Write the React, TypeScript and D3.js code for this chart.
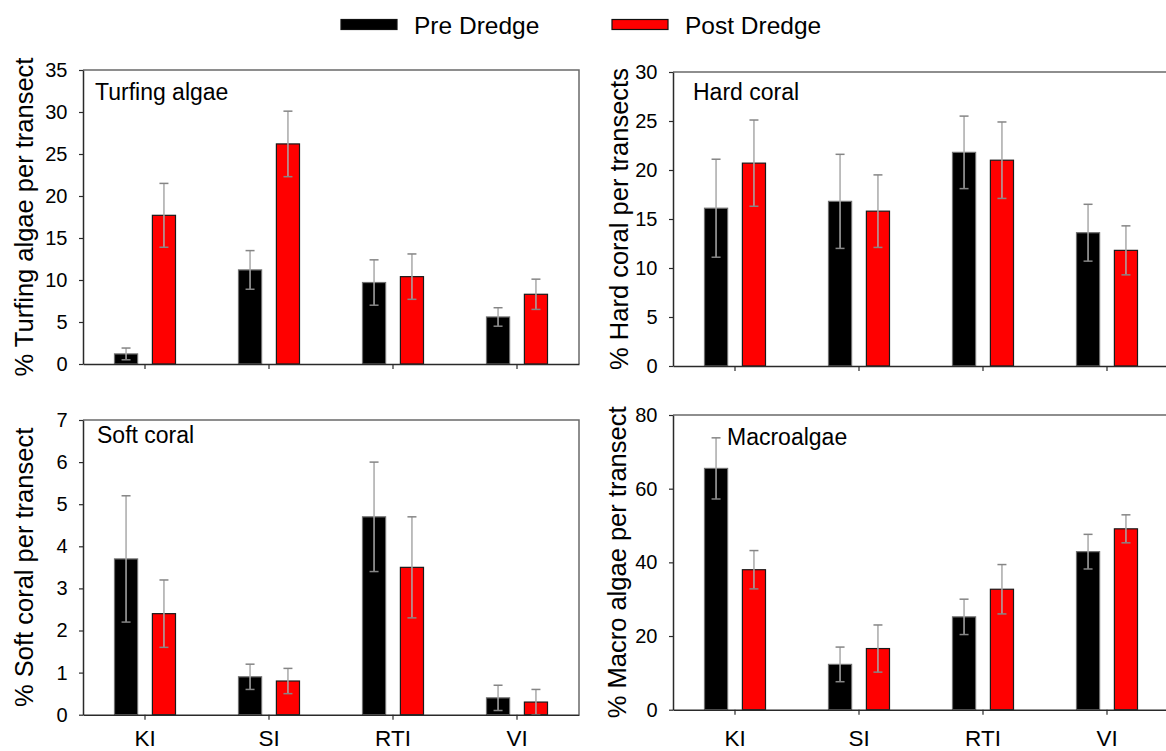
import React, { useEffect, useRef } from 'react'
import * as d3 from 'd3'

// sites along the x axis and the two survey periods
const sites = ['KI', 'SI', 'RTI', 'VI']
const seriesNames = ['Pre Dredge', 'Post Dredge']
const seriesColors = ['#000000', '#ff0000']

// % cover per transect (mean and error)
const turfPre = [1.2, 11.2, 9.7, 5.6]
const turfPreErr = [0.7, 2.3, 2.7, 1.1]
const turfPost = [17.7, 26.2, 10.4, 8.3]
const turfPostErr = [3.8, 3.9, 2.7, 1.8]

const hardPre = [16.1, 16.8, 21.8, 13.6]
const hardPreErr = [5.0, 4.8, 3.7, 2.9]
const hardPost = [20.7, 15.8, 21.0, 11.8]
const hardPostErr = [4.4, 3.7, 3.9, 2.5]

const softPre = [3.7, 0.9, 4.7, 0.4]
const softPreErr = [1.5, 0.3, 1.3, 0.3]
const softPost = [2.4, 0.8, 3.5, 0.3]
const softPostErr = [0.8, 0.3, 1.2, 0.3]

const macroPre = [65.5, 12.3, 25.2, 42.9]
const macroPreErr = [8.3, 4.7, 4.8, 4.7]
const macroPost = [38.0, 16.6, 32.7, 49.1]
const macroPostErr = [5.2, 6.4, 6.7, 3.8]

const FONT = '"Liberation Sans", Arial, sans-serif'

const buildRows = (pre, preErr, post, postErr) =>
    sites.map((site, i) => ({
        site,
        bars: [
            { key: seriesNames[0], val: pre[i], err: preErr[i] },
            { key: seriesNames[1], val: post[i], err: postErr[i] }
        ]
    }))

const panels = [
    {
        rows: buildRows(turfPre, turfPreErr, turfPost, turfPostErr),
        yMax: 35, yStep: 5, title: 'Turfing algae', yLabel: '% Turfing algae per transect',
        left: 83, top: 70, height: 294, titleDx: 12, titleDy: 30, yLabelX: 33, showX: false, xGap: 15
    },
    {
        rows: buildRows(hardPre, hardPreErr, hardPost, hardPostErr),
        yMax: 30, yStep: 5, title: 'Hard coral', yLabel: '% Hard coral per transects',
        left: 673, top: 72, height: 294, titleDx: 20, titleDy: 28, yLabelX: 628, showX: false, xGap: 15
    },
    {
        rows: buildRows(softPre, softPreErr, softPost, softPostErr),
        yMax: 7, yStep: 1, title: 'Soft coral', yLabel: '% Soft coral per transect',
        left: 83, top: 420, height: 294.7, titleDx: 14, titleDy: 23, yLabelX: 33, showX: true, xGap: 10
    },
    {
        rows: buildRows(macroPre, macroPreErr, macroPost, macroPostErr),
        yMax: 80, yStep: 20, title: 'Macroalgae', yLabel: '% Macro algae per transect',
        left: 673, top: 415, height: 294.7, titleDx: 54, titleDy: 30, yLabelX: 626, showX: true, xGap: 15
    }
]

const PANEL_W = 496

function drawPanel(svg, p) {
    const g = svg.append('g').attr('transform', `translate(${p.left},${p.top})`)

    const x0 = d3.scaleBand()
        .domain(sites)
        .range([0, PANEL_W])
        .paddingInner(0.508)
        .paddingOuter(0.254)

    const x1 = d3.scaleBand()
        .domain(seriesNames)
        .range([0, x0.bandwidth()])
        .paddingInner(0.39)

    const y = d3.scaleLinear()
        .domain([0, p.yMax])
        .range([p.height, 0])

    const color = d3.scaleOrdinal().domain(seriesNames).range(seriesColors)

    // top and right frame
    g.append('path')
        .attr('d', `M0,0H${PANEL_W}V${p.height}`)
        .attr('fill', 'none')
        .attr('stroke', '#6a6a6a')
        .attr('stroke-width', 1.5)

    // bars
    const groups = g.append('g')
        .selectAll('g')
        .data(p.rows)
        .join('g')
        .attr('transform', d => `translate(${x0(d.site)},0)`)

    groups.selectAll('rect')
        .data(d => d.bars)
        .join('rect')
        .attr('x', d => x1(d.key))
        .attr('y', d => y(d.val))
        .attr('width', x1.bandwidth())
        .attr('height', d => y(0) - y(d.val))
        .attr('fill', d => color(d.key))
        .attr('stroke', d => d.key === seriesNames[0] ? '#6f6f6f' : '#1a1a1a')
        .attr('stroke-width', 1.2)

    // error bars
    const err = groups.selectAll('g.err')
        .data(d => d.bars)
        .join('g')
        .attr('class', 'err')
        .attr('transform', d => `translate(${x1(d.key) + x1.bandwidth() / 2},0)`)

    err.append('line')
        .attr('y1', d => y(Math.max(0, d.val - d.err)))
        .attr('y2', d => y(d.val + d.err))
        .attr('stroke', '#a9a9a9')
        .attr('stroke-width', 1.5)

    err.selectAll('line.cap')
        .data(d => [Math.max(0, d.val - d.err), d.val + d.err])
        .join('line')
        .attr('class', 'cap')
        .attr('x1', -4.5)
        .attr('x2', 4.5)
        .attr('y1', d => y(d))
        .attr('y2', d => y(d))
        .attr('stroke', '#858585')
        .attr('stroke-width', 1.5)

    // y axis
    const yAxis = g.append('g')
        .call(d3.axisLeft(y)
            .tickValues(d3.range(0, p.yMax + p.yStep / 2, p.yStep))
            .tickFormat(d3.format('d'))
            .tickSize(4)
            .tickSizeOuter(0)
            .tickPadding(11.5))
    yAxis.select('.domain').attr('stroke', '#2a2a2a').attr('stroke-width', 1.5)
    yAxis.selectAll('.tick line').attr('stroke', '#2a2a2a').attr('stroke-width', 1.2)
    yAxis.selectAll('.tick text')
        .attr('font-size', 20)
        .attr('font-family', FONT)
        .attr('fill', '#000')

    // x axis
    const xAxis = g.append('g')
        .attr('transform', `translate(0,${p.height})`)
        .call(d3.axisBottom(x0)
            .tickSize(5)
            .tickSizeOuter(0)
            .tickPadding(p.xGap))
    xAxis.select('.domain').attr('stroke', '#2a2a2a').attr('stroke-width', 1.5)
    xAxis.selectAll('.tick line').attr('stroke', '#2a2a2a').attr('stroke-width', 1.2)
    xAxis.selectAll('.tick text')
        .attr('font-size', 22.5)
        .attr('font-family', FONT)
        .attr('fill', '#000')
        .style('display', p.showX ? null : 'none')

    // panel title
    g.append('text')
        .attr('x', p.titleDx)
        .attr('y', p.titleDy)
        .attr('font-size', 23)
        .attr('font-family', FONT)
        .text(p.title)

    // y axis label
    svg.append('text')
        .attr('transform', `translate(${p.yLabelX},${p.top + p.height / 2}) rotate(-90)`)
        .attr('text-anchor', 'middle')
        .attr('font-size', 25.5)
        .attr('font-family', FONT)
        .text(p.yLabel)
}

function drawLegend(svg) {
    const legendX = [341, 612]
    const item = svg.append('g')
        .selectAll('g')
        .data(seriesNames)
        .join('g')
        .attr('transform', (d, i) => `translate(${legendX[i]},19.5)`)

    item.append('rect')
        .attr('width', 56)
        .attr('height', 10)
        .attr('fill', (d, i) => seriesColors[i])
        .attr('stroke', '#111')
        .attr('stroke-width', 1.2)

    item.append('text')
        .attr('x', 73)
        .attr('y', 5.5)
        .attr('dominant-baseline', 'central')
        .attr('font-size', 24.5)
        .attr('font-family', FONT)
        .text(d => d)
}

export default function App() {
    const ref = useRef(null)

    useEffect(() => {
        const svg = d3.select(ref.current)
        svg.selectAll('*').remove()
        drawLegend(svg)
        panels.forEach(p => drawPanel(svg, p))
    }, [])

    return (
        <div style={{ position: 'absolute', left: 0, top: 0 }}>
            <svg ref={ref} width={1166} height={751} style={{ display: 'block', background: '#fff' }} />
        </div>
    )
}
